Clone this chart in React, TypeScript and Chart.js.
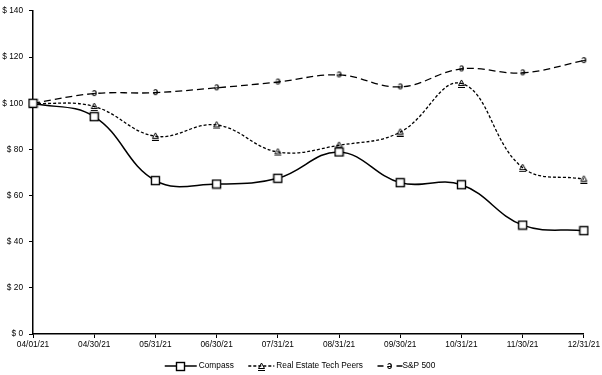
import React, { useEffect, useRef } from "react";
import { Chart, registerables } from "chart.js";

Chart.register(...registerables);

const categories = ["04/01/21", "04/30/21", "05/31/21", "06/30/21", "07/31/21", "08/31/21", "09/30/21", "10/31/21", "11/30/21", "12/31/21"];
const compassValues = [100, 94.2, 66.5, 65.0, 67.5, 78.9, 65.6, 64.7, 47.2, 44.8];
const peersValues = [100, 98.6, 85.7, 90.6, 78.9, 81.8, 87.5, 108.6, 72.1, 67.1];
const sp500Values = [100, 104.2, 104.6, 106.7, 109.2, 112.3, 107.1, 114.9, 113.2, 118.5];
const seriesNames = ["Compass", "Real Estate Tech Peers", "S&P 500"];
const yMin = 0;
const yMax = 140;
const yStep = 20;

const FONT = "'Liberation Sans', Arial, sans-serif";

function makeSquare(): HTMLCanvasElement {
  const c = document.createElement("canvas");
  c.width = 11;
  c.height = 11;
  const ctx = c.getContext("2d")!;
  ctx.fillStyle = "#fff";
  ctx.fillRect(1.5, 1.5, 8, 8);
  ctx.strokeStyle = "#000";
  ctx.lineWidth = 1.4;
  ctx.strokeRect(1.5, 1.5, 8, 8);
  return c;
}

function makeTriangle(): HTMLCanvasElement {
  const c = document.createElement("canvas");
  c.width = 9;
  c.height = 9;
  const ctx = c.getContext("2d")!;
  ctx.strokeStyle = "#000";
  ctx.lineWidth = 1;
  ctx.beginPath();
  ctx.moveTo(4.5, 1);
  ctx.lineTo(7.5, 6.5);
  ctx.lineTo(1.5, 6.5);
  ctx.closePath();
  ctx.stroke();
  ctx.beginPath();
  ctx.moveTo(1, 8.5);
  ctx.lineTo(8, 8.5);
  ctx.stroke();
  return c;
}

function makeGlyph(): HTMLCanvasElement {
  const c = document.createElement("canvas");
  c.width = 9;
  c.height = 11;
  const ctx = c.getContext("2d")!;
  ctx.fillStyle = "#000";
  ctx.font = `bold 10px ${FONT}`;
  ctx.textAlign = "center";
  ctx.textBaseline = "middle";
  ctx.fillText("ə", 4.5, 5.5);
  return c;
}

export default function App() {
  const ref = useRef<HTMLCanvasElement>(null);

  useEffect(() => {
    const canvas = ref.current;
    if (!canvas) return;
    const sq = makeSquare();
    const tri = makeTriangle();
    const gl = makeGlyph();

    const legendPlugin = {
      id: "customLegend",
      afterDraw(chart: any) {
        const ctx = chart.ctx as CanvasRenderingContext2D;
        const y = 366;
        const symW = [32, 26, 25];
        const gaps = [2, 2, 0];
        const dashes: number[][] = [[], [3, 2], [6, 13]];
        const itemGap = 14.5;
        ctx.save();
        ctx.font = `8.3px ${FONT}`;
        const widths = chart.data.datasets.map((d: any, i: number) => symW[i] + gaps[i] + ctx.measureText(d.label).width);
        const total = widths.reduce((a: number, b: number) => a + b, 0) + itemGap * (widths.length - 1);
        let x = 300 - total / 2;
        chart.data.datasets.forEach((d: any, i: number) => {
          ctx.strokeStyle = "#000";
          ctx.lineWidth = d.borderWidth;
          ctx.setLineDash(dashes[i]);
          ctx.beginPath();
          ctx.moveTo(x, y);
          ctx.lineTo(x + symW[i], y);
          ctx.stroke();
          ctx.setLineDash([]);
          const img = d.pointStyle as HTMLCanvasElement;
          ctx.drawImage(img, Math.round(x + symW[i] / 2 - img.width / 2), Math.round(y - img.height / 2));
          ctx.fillStyle = "#000";
          ctx.textAlign = "left";
          ctx.textBaseline = "middle";
          ctx.fillText(d.label, x + symW[i] + gaps[i], y);
          x += widths[i] + itemGap;
        });
        ctx.restore();
      },
    };

    const tickFont = { family: FONT, size: 8.3 };

    const chart = new Chart(canvas, {
      type: "line",
      data: {
        labels: categories,
        datasets: [
          {
            label: seriesNames[0],
            data: compassValues,
            borderColor: "#000",
            borderWidth: 1.5,
            pointStyle: sq as any,
            pointRadius: 5,
            tension: 0.4,
            fill: false,
          },
          {
            label: seriesNames[1],
            data: peersValues,
            borderColor: "#000",
            borderWidth: 1.3,
            borderDash: [3, 2],
            pointStyle: tri as any,
            pointRadius: 4,
            tension: 0.4,
            fill: false,
          },
          {
            label: seriesNames[2],
            data: sp500Values,
            borderColor: "#000",
            borderWidth: 1.3,
            borderDash: [7, 4],
            pointStyle: gl as any,
            pointRadius: 4,
            tension: 0.4,
            fill: false,
          },
        ],
      },
      options: {
        responsive: false,
        animation: false,
        layout: { padding: { top: 7, right: 18, left: 0, bottom: 0 } },
        plugins: { legend: { display: false }, tooltip: { enabled: false } },
        scales: {
          x: {
            offset: false,
            grid: { drawOnChartArea: false, drawTicks: true, tickLength: 4, color: "#000", lineWidth: 1 },
            border: { color: "#000", width: 1.5 },
            ticks: { color: "#000", font: tickFont, padding: 2, maxRotation: 0, minRotation: 0, autoSkip: false },
            afterFit: (s: any) => {
              s.height = 41;
            },
          },
          y: {
            min: yMin,
            max: yMax,
            grid: { drawOnChartArea: false, drawTicks: true, tickLength: 4, color: "#000", lineWidth: 1 },
            border: { color: "#000", width: 1.5 },
            ticks: {
              stepSize: yStep,
              color: "#000",
              font: tickFont,
              padding: 6,
              callback: (v: any) => "$ " + v,
            },
            afterFit: (s: any) => {
              s.width = 33;
            },
          },
        },
      },
      plugins: [legendPlugin],
    });
    return () => chart.destroy();
  }, []);

  return (
    <div style={{ position: "fixed", left: 0, top: 0, width: 602, height: 375, background: "#fff" }}>
      <canvas ref={ref} width={602} height={375} style={{ display: "block" }} />
    </div>
  );
}
